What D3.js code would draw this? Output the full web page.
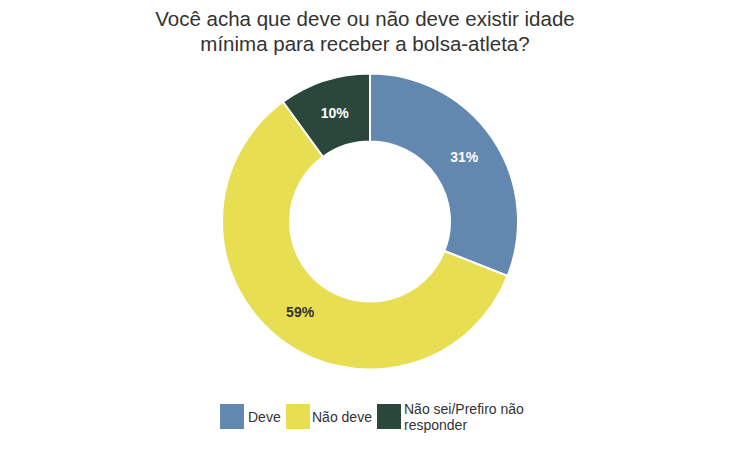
<!DOCTYPE html>
<html><head><meta charset="utf-8">
<script src="https://cdn.jsdelivr.net/npm/d3@7"></script>
<style>body{margin:0;background:#fff;}svg{display:block;font-family:"Liberation Sans",Arial,sans-serif;}</style>
</head><body>
<svg id="c" width="731" height="466"></svg>
<script>
const categories = ["Deve", "Não deve", "Não sei/Prefiro não responder"];
const values = [31, 59, 10];
const labels = ["31%", "59%", "10%"];
const colors = ["#6388b0", "#e8de51", "#29473b"];
const labelColors = ["#ffffff", "#333333", "#ffffff"];
const legendLines = [["Deve"], ["Não deve"], ["Não sei/Prefiro não", "responder"]];
const titleLines = ["Você acha que deve ou não deve existir idade", "mínima para receber a bolsa-atleta?"];

const svg = d3.select("#c");
const cx = 370, cy = 221.5, R = 148, r = 80;

svg.append("g").selectAll("text").data(titleLines).join("text")
  .attr("x", 365).attr("y", (d,i)=>26 + i*25)
  .attr("text-anchor","middle").attr("font-size", 20.5).attr("fill","#333")
  .text(d=>d);

const data = categories.map((c,i)=>({c, v: values[i], i}));
const pie = d3.pie().value(d=>d.v).sort(null);
const arc = d3.arc().innerRadius(r).outerRadius(R);
const mid = d3.arc().innerRadius((r+R)/2).outerRadius((r+R)/2);
const g = svg.append("g").attr("transform",`translate(${cx},${cy})`);
const arcs = pie(data);
g.selectAll("path").data(arcs).join("path")
  .attr("d", arc).attr("fill", d=>colors[d.data.i])
  .attr("stroke","#fff").attr("stroke-width",2);
g.selectAll("text").data(arcs).join("text")
  .attr("transform", d=>`translate(${mid.centroid(d)})`)
  .attr("text-anchor","middle").attr("dy","0.36em")
  .attr("font-size",14).attr("font-weight","bold")
  .attr("fill", d=>labelColors[d.data.i])
  .text(d=>labels[d.data.i]);

// legend
const lx = [220, 286, 377];
const tx = [248, 312, 404];
const lg = svg.append("g");
categories.forEach((c,i)=>{
  lg.append("rect").attr("x", lx[i]).attr("y", 404).attr("width", 24).attr("height", 25).attr("fill", colors[i]);
  const lines = legendLines[i];
  lines.forEach((t,j)=>{
    lg.append("text").attr("x", tx[i])
      .attr("y", lines.length===1 ? 422 : 414 + j*16)
      .attr("font-size", 14).attr("fill","#333").text(t);
  });
});
</script>
</body></html>
